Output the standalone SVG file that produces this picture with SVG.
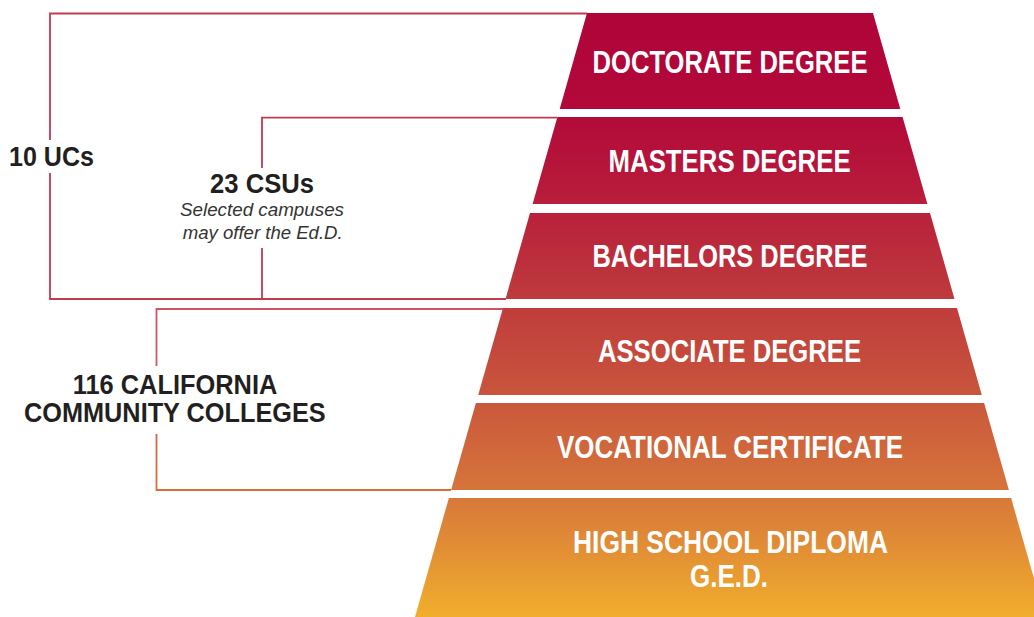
<svg xmlns="http://www.w3.org/2000/svg" width="1034" height="617" viewBox="0 0 1034 617">
<defs>
<linearGradient id="pyr" gradientUnits="userSpaceOnUse" x1="0" y1="13" x2="0" y2="617">
<stop offset="0" stop-color="#AF0538"/>
<stop offset="0.159" stop-color="#B2083A"/>
<stop offset="0.316" stop-color="#B81E3B"/>
<stop offset="0.4735" stop-color="#BE3A3C"/>
<stop offset="0.632" stop-color="#C9553C"/>
<stop offset="0.79" stop-color="#D6753A"/>
<stop offset="0.872" stop-color="#E08A36"/>
<stop offset="1" stop-color="#F1AE2C"/>
</linearGradient>
<linearGradient id="ccc" gradientUnits="userSpaceOnUse" x1="0" y1="308" x2="0" y2="491">
<stop offset="0" stop-color="#CC5560"/>
<stop offset="0.6" stop-color="#D26058"/>
<stop offset="1" stop-color="#D96E3C"/>
</linearGradient>
</defs>
<style>
.tier{fill:url(#pyr);}
.lbl{font-family:"Liberation Sans",Arial,sans-serif;font-weight:bold;font-size:30.5px;fill:#FFFFFF;}
.side{font-family:"Liberation Sans",Arial,sans-serif;font-weight:bold;font-size:27px;fill:#231F20;}
.note{font-family:"Liberation Sans",Arial,sans-serif;font-style:italic;font-size:19px;fill:#333333;}
.br{fill:none;stroke:#C23A52;stroke-width:1.8;}
</style>
<rect x="0" y="0" width="1034" height="617" fill="#FFFFFF"/>
<g id="connectors">
<path class="br" d="M587 13.5 H50 V140 M50 173 V299 H506"/>
<path class="br" d="M557 117.7 H262 V168 M262 248 V299"/>
<path class="br" style="stroke:url(#ccc)" d="M503 309 H156.5 V366 M156.5 434 V490 H451"/>
</g>
<g id="doctorate">
<polygon class="tier" points="587,13 873,13 900.3,109 559.7,109"/>
<text class="lbl" x="592.5" y="73" textLength="275" lengthAdjust="spacingAndGlyphs">DOCTORATE DEGREE</text>
</g>
<g id="masters">
<polygon class="tier" points="557.4,117 902.6,117 927.4,204 532.6,204"/>
<text class="lbl" x="608.6" y="172" textLength="242" lengthAdjust="spacingAndGlyphs">MASTERS DEGREE</text>
</g>
<g id="bachelors">
<polygon class="tier" points="530,213 930,213 954.5,299 505.5,299"/>
<text class="lbl" x="592.5" y="267" textLength="275" lengthAdjust="spacingAndGlyphs">BACHELORS DEGREE</text>
</g>
<g id="associate">
<polygon class="tier" points="503,308 957,308 981.8,395 478.2,395"/>
<text class="lbl" x="598" y="362" textLength="263" lengthAdjust="spacingAndGlyphs">ASSOCIATE DEGREE</text>
</g>
<g id="vocational">
<polygon class="tier" points="475.9,403 984.1,403 1008.9,490 451.1,490"/>
<text class="lbl" x="557" y="458" textLength="346" lengthAdjust="spacingAndGlyphs">VOCATIONAL CERTIFICATE</text>
</g>
<g id="highschool">
<polygon class="tier" points="448.9,498 1011.1,498 1045,617 415,617"/>
<text class="lbl" x="573" y="553" textLength="315" lengthAdjust="spacingAndGlyphs">HIGH SCHOOL DIPLOMA</text>
<text class="lbl" x="690" y="587" textLength="78" lengthAdjust="spacingAndGlyphs">G.E.D.</text>
</g>
<g id="ucs">
<text class="side" x="9" y="166" textLength="85" lengthAdjust="spacingAndGlyphs">10 UCs</text>
</g>
<g id="csus">
<text class="side" x="210" y="193" textLength="104" lengthAdjust="spacingAndGlyphs">23 CSUs</text>
<text class="note" x="180" y="216" textLength="164" lengthAdjust="spacingAndGlyphs">Selected campuses</text>
<text class="note" x="182.7" y="239" textLength="160" lengthAdjust="spacingAndGlyphs">may offer the Ed.D.</text>
</g>
<g id="ccc-label">
<text class="side" x="72.7" y="394" textLength="204.6" lengthAdjust="spacingAndGlyphs">116 CALIFORNIA</text>
<text class="side" x="24" y="421.7" textLength="301.7" lengthAdjust="spacingAndGlyphs">COMMUNITY COLLEGES</text>
</g>
</svg>
